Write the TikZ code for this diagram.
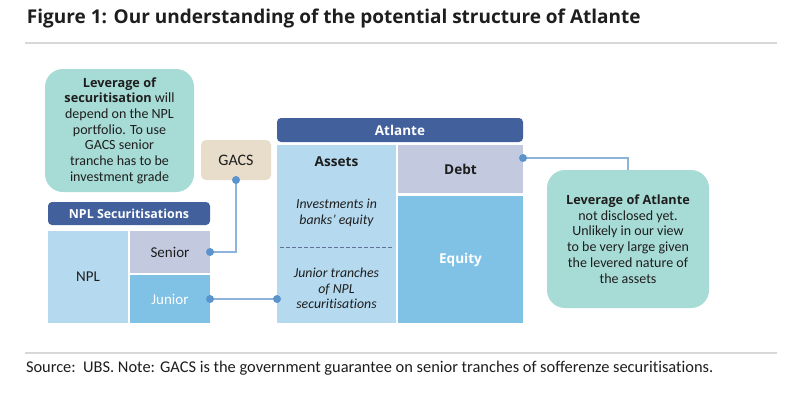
\documentclass[tikz,border=0pt]{standalone}
\usepackage{fontspec}
\setmainfont{Carlito}[Ligatures=NoCommon]
\newfontfamily\osans{Open Sans}
\newcommand\obold[1]{{\osans\bfseries #1}}
\usetikzlibrary{calc}
\definecolor{cteal}{HTML}{A7DBD5}
\definecolor{chdr}{HTML}{41609C}
\definecolor{clight}{HTML}{B5D9EE}
\definecolor{clav}{HTML}{C3C9DF}
\definecolor{cmid}{HTML}{7FC2E6}
\definecolor{cbeige}{HTML}{E7DDCA}
\definecolor{cline}{HTML}{8DB3DA}
\definecolor{cdot}{HTML}{5B93CC}
\definecolor{crule}{HTML}{D8D8D8}
\definecolor{ctext}{HTML}{1E1E1E}
\definecolor{cdash}{HTML}{5E7196}
\tikzset{
  callout/.style={fill=cteal, rounded corners=18pt, align=center, text=ctext},
  hdr/.style={fill=chdr, rounded corners=4pt, text=white},
  cell/.style={text=ctext, font=\fontsize{15}{18}\selectfont},
  bcell/.style={text=ctext, font=\osans\bfseries\fontsize{13.6}{16}\selectfont},
  conn/.style={draw=cline, line width=1.6pt},
  dotc/.style={fill=cdot},
  itl/.style={align=center, text=ctext, font=\itshape\fontsize{13.8}{16}\selectfont}
}
\begin{document}
\begin{tikzpicture}[x=1pt,y=-1pt, every node/.style={inner sep=0pt, outer sep=0pt}]
\useasboundingbox[fill=white] (0,0) rectangle (800,400);

% title and rules
\node[anchor=base west, text=ctext, font=\osans\bfseries\fontsize{19}{23}\selectfont] (title) at (27,23) {Figure 1: Our understanding of the potential structure of Atlante};
\draw[crule, line width=2pt] (25,43) -- (777,43);
\draw[crule, line width=1.6pt] (25,353) -- (777,353);
\node[anchor=base west, text=ctext, font=\fontsize{16.4}{19}\selectfont] (source) at (26,372) {Source:\ \ UBS. Note: GACS is the government guarantee on senior tranches of sofferenze securitisations.};

% left callout
\node[callout, minimum width=149pt, minimum height=123pt, font=\fontsize{14}{15.7}\selectfont] (callL) at (119.5,130.5)
  {\obold{\fontsize{12.7}{15.7}\selectfont Leverage of}\\\obold{\fontsize{12.7}{15.7}\selectfont securitisation} will\\depend on the NPL\\portfolio. To use\\GACS senior\\tranche has to be\\investment grade};

% GACS
\node[fill=cbeige, rounded corners=5pt, minimum width=70pt, minimum height=40pt, cell, font=\fontsize{16}{18}\selectfont] (gacs) at (236,160) {GACS};

% NPL securitisations
\node[hdr, minimum width=162pt, minimum height=23pt, font=\osans\bfseries\fontsize{12.4}{15}\selectfont] (nplhdr) at (129,213.5) {NPL Securitisations};
\node[fill=clight, minimum width=80pt, minimum height=92pt, cell] (npl) at (88,277) {NPL};
\node[fill=clav, minimum width=80pt, minimum height=42pt, cell] (senior) at (170,252) {Senior};
\node[fill=cmid, minimum width=80pt, minimum height=48pt, cell, text=white] (junior) at (170,299) {Junior};

% Atlante
\node[hdr, minimum width=246pt, minimum height=24pt, font=\osans\bfseries\fontsize{13.5}{16}\selectfont] (atlhdr) at (400,130) {Atlante};
\node[fill=clight, minimum width=119pt, minimum height=178pt] (assets) at (336.5,234) {};
\node[fill=clav, minimum width=125pt, minimum height=48pt, bcell] (debt) at (460.5,169) {Debt};
\node[fill=cmid, minimum width=125pt, minimum height=127pt, bcell, text=white] (equity) at (460.5,259.5) {Equity};
\node[bcell] (assetsT) at (336.5,162) {Assets};
\node[itl] (invT) at (336.5,213) {Investments in\\banks' equity};
\node[itl, font=\itshape\fontsize{13.8}{15.5}\selectfont] (jtT) at (336.5,288.5) {Junior tranches\\of NPL\\securitisations};
\draw[cdash, line width=1pt, dash pattern=on 3.5pt off 2.5pt] ($(assets.west)+(3,13)$) -- ($(assets.east)+(-2,13)$);

% right callout
\node[callout, minimum width=162pt, minimum height=138pt, font=\fontsize{14}{15.8}\selectfont] (callR) at (628,239)
  {\obold{\fontsize{12.7}{15.8}\selectfont Leverage of Atlante}\\not disclosed yet.\\Unlikely in our view\\to be very large given\\the levered nature of\\the assets};

% connectors
\draw[conn] (gacs.south) |- (senior.east);
\fill[dotc] (gacs.south) circle (4pt);
\fill[dotc] (senior.east) circle (4pt);

\draw[conn] (junior.east) -- (junior.east -| assets.west);
\fill[dotc] (junior.east) circle (4pt);
\fill[dotc] (junior.east -| assets.west) circle (4pt);

\coordinate (debtpt) at ($(debt.north east)+(0,13)$);
\draw[conn] (debtpt) -| (callR.north);
\fill[dotc] (debtpt) circle (4pt);
\end{tikzpicture}
\end{document}
